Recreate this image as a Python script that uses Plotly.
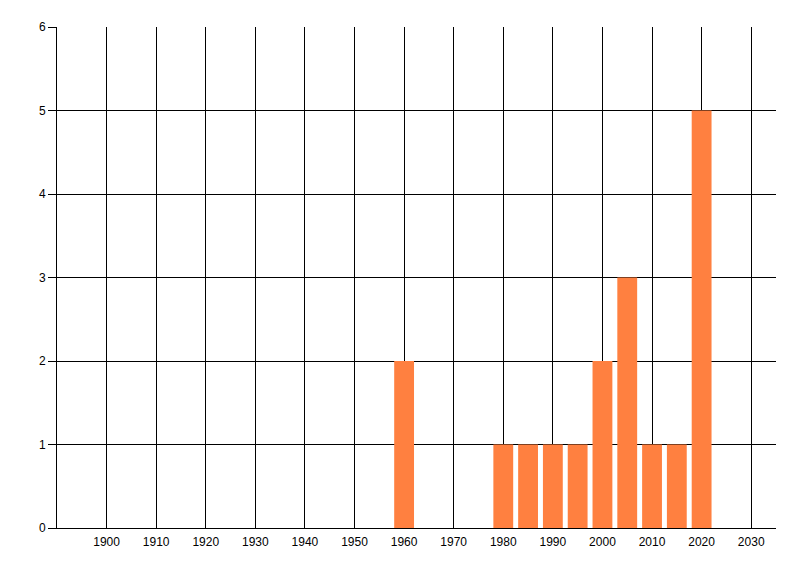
import plotly.graph_objs as go

# decade/half-decade buckets and their counts
years = [1960, 1980, 1985, 1990, 1995, 2000, 2005, 2010, 2015, 2020]
counts = [2, 1, 1, 1, 1, 2, 3, 1, 1, 5]
x_ticks = list(range(1900, 2031, 10))
y_ticks = [0, 1, 2, 3, 4, 5, 6]

fig = go.Figure()

fig.add_trace(go.Bar(x=years, y=counts, width=4,
                     marker=dict(color='#FF8040', line=dict(width=0))))

# page body adds 8px, so margins are offset by that
fig.update_layout(
    width=800, height=576,
    margin=dict(l=49, r=32, t=19, b=56),
    plot_bgcolor='white', paper_bgcolor='white',
    showlegend=False,
    font=dict(family='Liberation Sans, Arial, sans-serif', size=12, color='black'),
)

fig.update_xaxes(
    range=[1890, 2035], tickvals=x_ticks,
    showgrid=True, gridcolor='black', gridwidth=1,
    showline=True, linecolor='black', linewidth=1,
    ticks='', zeroline=False, tickfont=dict(size=12),
    ticklabelstandoff=3,
)
fig.update_yaxes(
    range=[0, 6], tickvals=y_ticks,
    showgrid=True, gridcolor='black', gridwidth=1,
    showline=True, linecolor='black', linewidth=1,
    ticks='outside', ticklen=8, tickcolor='black',
    zeroline=False, tickfont=dict(size=12),
)

fig.write_html("out.html")
